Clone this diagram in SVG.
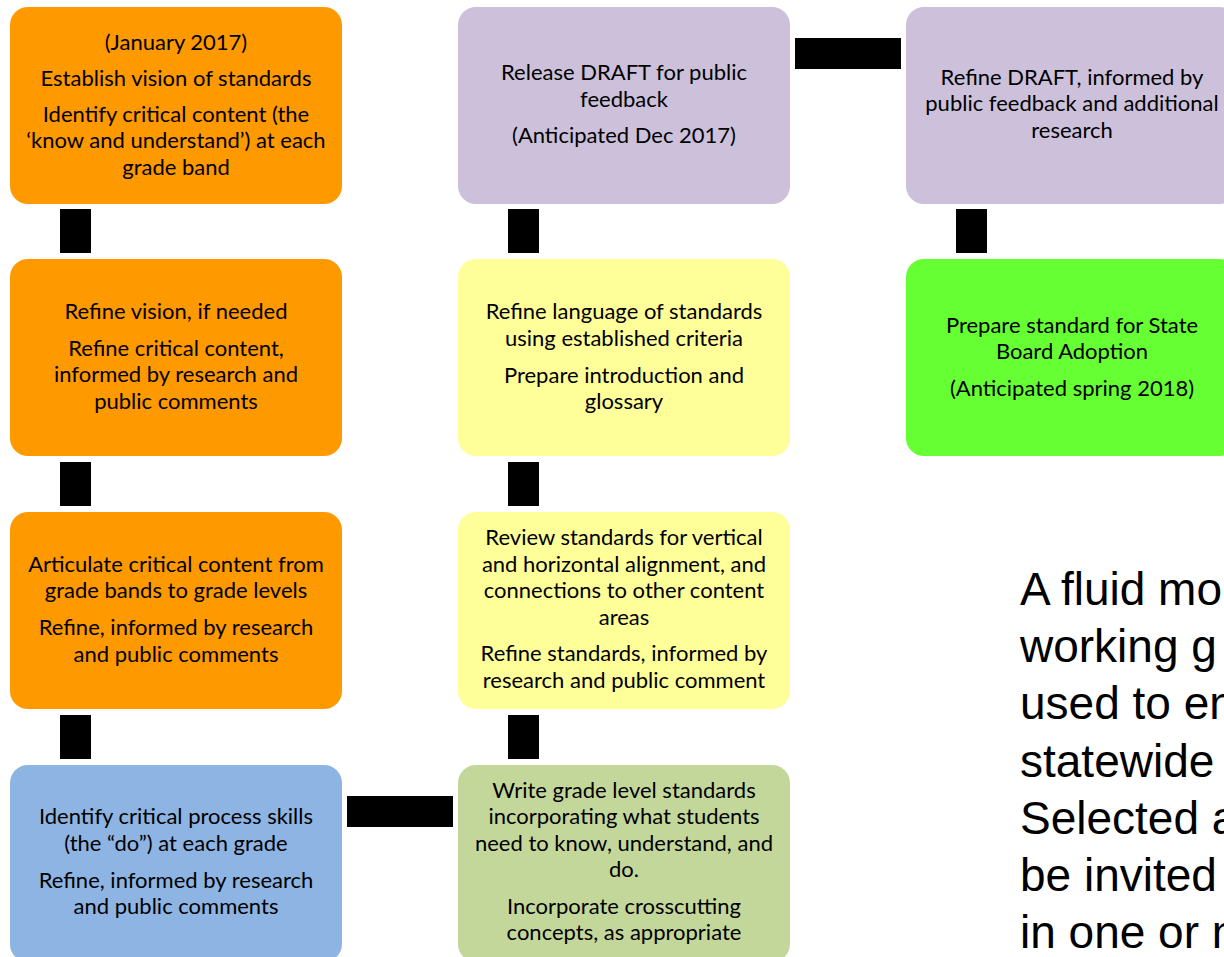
<svg xmlns="http://www.w3.org/2000/svg" width="1224" height="957" viewBox="0 0 1224 957">
<style>
.box{stroke:none}
.t{font-family:Lato,"Liberation Sans",sans-serif;font-size:22px;fill:#000;text-anchor:middle}
.side{font-family:"Liberation Sans",Arial,sans-serif;font-size:46px;fill:#000}
.orange{fill:#FF9900}
.purple{fill:#CCC0DA}
.yellow{fill:#FFFF99}
.olive{fill:#C4D79B}
.blue{fill:#8DB4E2}
.lime{fill:#66FF33}
.conn{fill:#000}
</style>
<rect width="1224" height="957" fill="#fff"/>
<g id="connectors">
<rect class="conn" x="60" y="209" width="31" height="44"/>
<rect class="conn" x="60" y="462" width="31" height="44"/>
<rect class="conn" x="60" y="715" width="31" height="44"/>
<rect class="conn" x="508" y="209" width="31" height="44"/>
<rect class="conn" x="508" y="462" width="31" height="44"/>
<rect class="conn" x="508" y="715" width="31" height="44"/>
<rect class="conn" x="956" y="209" width="31" height="44"/>
<rect class="conn" x="795" y="38" width="106" height="31"/>
<rect class="conn" x="347" y="796" width="106" height="31"/>
</g>
<g id="n1">
<rect class="box orange" x="10" y="7" width="332" height="197" rx="18"/>
<text class="t" x="176" y="50">(January 2017)</text>
<text class="t" x="176" y="86">Establish vision of standards</text>
<text class="t" x="176" y="122">Identify critical content (the</text>
<text class="t" x="176" y="148">‘know and understand’) at each</text>
<text class="t" x="176" y="175">grade band</text>
</g>
<g id="n2">
<rect class="box orange" x="10" y="259" width="332" height="197" rx="18"/>
<text class="t" x="176" y="319">Refine vision, if needed</text>
<text class="t" x="176" y="356">Refine critical content,</text>
<text class="t" x="176" y="382">informed by research and</text>
<text class="t" x="176" y="409">public comments</text>
</g>
<g id="n3">
<rect class="box orange" x="10" y="512" width="332" height="197" rx="18"/>
<text class="t" x="176" y="572">Articulate critical content from</text>
<text class="t" x="176" y="598">grade bands to grade levels</text>
<text class="t" x="176" y="635">Refine, informed by research</text>
<text class="t" x="176" y="662">and public comments</text>
</g>
<g id="n4">
<rect class="box blue" x="10" y="765" width="332" height="197" rx="18"/>
<text class="t" x="176" y="824">Identify critical process skills</text>
<text class="t" x="176" y="851">(the “do”) at each grade</text>
<text class="t" x="176" y="888">Refine, informed by research</text>
<text class="t" x="176" y="914">and public comments</text>
</g>
<g id="n5">
<rect class="box purple" x="458" y="7" width="332" height="197" rx="18"/>
<text class="t" x="624" y="80">Release DRAFT for public</text>
<text class="t" x="624" y="107">feedback</text>
<text class="t" x="624" y="143">(Anticipated Dec 2017)</text>
</g>
<g id="n6">
<rect class="box yellow" x="458" y="259" width="332" height="197" rx="18"/>
<text class="t" x="624" y="319">Refine language of standards</text>
<text class="t" x="624" y="346">using established criteria</text>
<text class="t" x="624" y="383">Prepare introduction and</text>
<text class="t" x="624" y="409">glossary</text>
</g>
<g id="n7">
<rect class="box yellow" x="458" y="512" width="332" height="197" rx="18"/>
<text class="t" x="624" y="545">Review standards for vertical</text>
<text class="t" x="624" y="572">and horizontal alignment, and</text>
<text class="t" x="624" y="598">connections to other content</text>
<text class="t" x="624" y="625">areas</text>
<text class="t" x="624" y="661">Refine standards, informed by</text>
<text class="t" x="624" y="688">research and public comment</text>
</g>
<g id="n8">
<rect class="box olive" x="458" y="765" width="332" height="197" rx="18"/>
<text class="t" x="624" y="798">Write grade level standards</text>
<text class="t" x="624" y="824">incorporating what students</text>
<text class="t" x="624" y="851">need to know, understand, and</text>
<text class="t" x="624" y="877">do.</text>
<text class="t" x="624" y="914">Incorporate crosscutting</text>
<text class="t" x="624" y="940">concepts, as appropriate</text>
</g>
<g id="n9">
<rect class="box purple" x="906" y="7" width="332" height="197" rx="18"/>
<text class="t" x="1072" y="85">Refine DRAFT, informed by</text>
<text class="t" x="1072" y="111">public feedback and additional</text>
<text class="t" x="1072" y="138">research</text>
</g>
<g id="n10">
<rect class="box lime" x="906" y="259" width="332" height="197" rx="18"/>
<text class="t" x="1072" y="333">Prepare standard for State</text>
<text class="t" x="1072" y="359">Board Adoption</text>
<text class="t" x="1072" y="396">(Anticipated spring 2018)</text>
</g>
<g id="note">
<text class="side" x="1020" y="605">A fluid mo</text>
<text class="side" x="1020" y="662">working g</text>
<text class="side" x="1020" y="719">used to en</text>
<text class="side" x="1020" y="777">statewide</text>
<text class="side" x="1020" y="834">Selected a</text>
<text class="side" x="1020" y="891">be invited</text>
<text class="side" x="1020" y="948">in one or m</text>
</g>
</svg>
